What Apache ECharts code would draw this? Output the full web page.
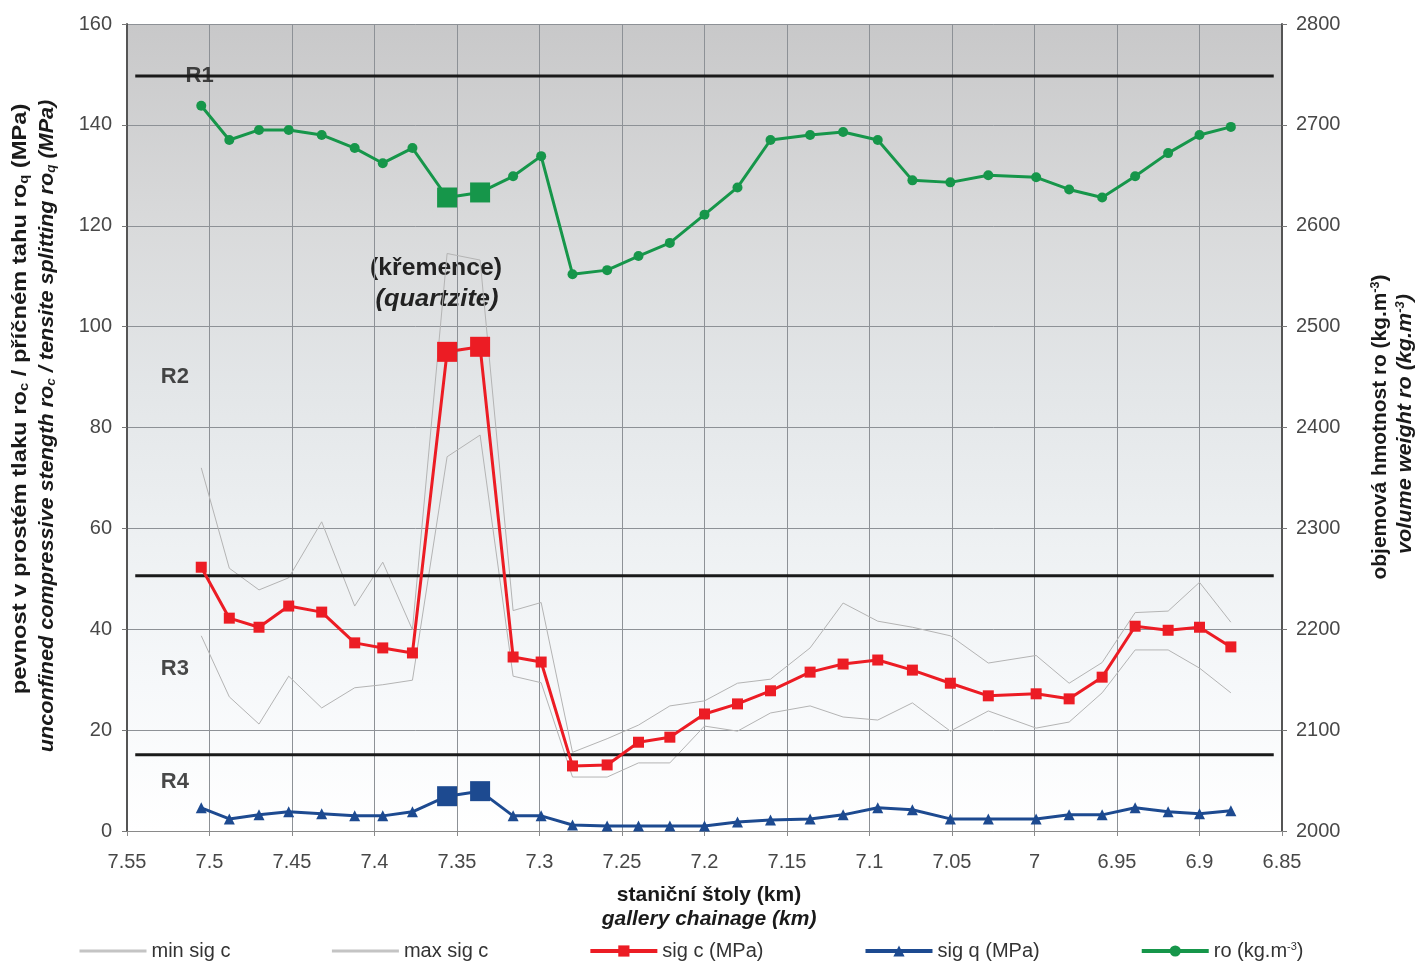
<!DOCTYPE html>
<html><head><meta charset="utf-8">
<script src="https://cdn.jsdelivr.net/npm/echarts@6/dist/echarts.min.js"></script>
<style>html,body{margin:0;padding:0;background:#fff}#c{width:1416px;height:961px}</style>
</head><body><div id="c"></div>
<script>
// ---- data ----
const chainage = [7.505,7.488,7.470,7.452,7.432,7.412,7.395,7.377,7.356,7.336,7.316,7.299,7.280,7.259,7.240,7.221,7.200,7.180,7.160,7.136,7.116,7.095,7.074,7.051,7.028,6.999,6.979,6.959,6.939,6.919,6.900,6.881];
const minSigC = [38.7,26.6,21.2,30.7,24.4,28.4,29.0,29.9,74.2,78.5,30.7,29.4,10.7,10.7,13.5,13.5,20.8,19.8,23.4,24.8,22.6,22.0,25.4,19.8,23.8,20.4,21.6,27.4,35.9,35.9,32.3,27.4];
const maxSigC = [72.0,52.1,47.8,50.2,61.3,44.6,53.3,39.9,114.5,113.2,43.7,45.3,15.6,18.3,21.0,24.8,25.8,29.3,30.1,36.3,45.2,41.6,40.4,38.7,33.3,34.8,29.3,33.4,43.3,43.6,49.3,41.4];
const sigC = [52.3,42.2,40.4,44.6,43.4,37.3,36.3,35.3,95.0,96.0,34.5,33.5,12.9,13.1,17.6,18.6,23.2,25.2,27.8,31.5,33.1,33.9,31.9,29.3,26.8,27.2,26.2,30.5,40.6,39.8,40.4,36.5];
const sigQ = [4.6,2.4,3.2,3.8,3.4,3.0,3.0,3.8,6.9,7.9,3.0,3.0,1.2,1.0,1.0,1.0,1.0,1.8,2.2,2.4,3.2,4.6,4.2,2.4,2.4,2.4,3.2,3.2,4.6,3.8,3.4,4.0];
const ro = [2719,2685,2695,2695,2690,2677,2662,2677,2628,2633,2649,2669,2552,2556,2570,2583,2611,2638,2685,2690,2693,2685,2645,2643,2650,2648,2636,2628,2649,2672,2690,2698];
const quartziteIdx = [8,9];
const zoneLimits = [149.7, 50.6, 15.1];
const zoneLineRange = [7.545, 6.855];
const zoneNames = ['R1','R2','R3','R4'];
const zoneLabelPos = [[7.506,149.7],[7.521,90],[7.521,32.1],[7.521,9.7]];
const xTicks = {min:6.85, max:7.55, step:0.05};
const yLeft = {min:0, max:160, step:20};
const yRight = {min:2000, max:2800, step:100};
const legendNames = ['min sig c','max sig c','sig c (MPa)','sig q (MPa)','ro (kg.m-3)'];

// ---- chart ----
const chart = echarts.init(document.getElementById('c'), null, {renderer:'canvas'});
const FONT = '"Liberation Sans", Arial, sans-serif';
function pts(vals, bigSym){
  return chainage.map((x,i)=> quartziteIdx.includes(i)
    ? Object.assign({value:[x, vals[i]], symbolSize:20}, bigSym ? {symbol:bigSym} : {})
    : {value:[x, vals[i]]});
}
const series = [
  {name:legendNames[0], type:'line', data:chainage.map((x,i)=>[x,minSigC[i]]), symbol:'none', lineStyle:{color:'#b4b4b4', width:1}, itemStyle:{color:'#b4b4b4'}, z:2},
  {name:legendNames[1], type:'line', data:chainage.map((x,i)=>[x,maxSigC[i]]), symbol:'none', lineStyle:{color:'#b4b4b4', width:1}, itemStyle:{color:'#b4b4b4'}, z:2},
  {name:legendNames[2], type:'line', data:pts(sigC), symbol:'rect', symbolSize:11, lineStyle:{color:'#ec1c24', width:3}, itemStyle:{color:'#ec1c24'}, z:5},
  {name:legendNames[3], type:'line', data:pts(sigQ,'rect'), symbol:'triangle', symbolSize:11, lineStyle:{color:'#1d4a90', width:3}, itemStyle:{color:'#1d4a90'}, z:5},
  {name:legendNames[4], type:'line', yAxisIndex:1, data:pts(ro,'rect'), symbol:'circle', symbolSize:10, lineStyle:{color:'#16964a', width:3}, itemStyle:{color:'#16964a'}, z:5},
];
zoneLimits.forEach((v,k)=>{
  series.push({name:'zone'+k, type:'line', silent:true, symbol:'none', data:[[zoneLineRange[0],v],[zoneLineRange[1],v]], lineStyle:{color:'#1a1a1a', width:3}, z:4});
});
series.push({name:'zones', type:'scatter', silent:true, symbolSize:0, z:6,
  data:zoneNames.map((n,i)=>({name:n, value:zoneLabelPos[i]})),
  label:{show:true, position:'inside', formatter:p=>p.name, fontFamily:FONT, fontWeight:'bold', fontSize:22, color:'#1a1a1a'}});

function vtext(x, y, text, font, subFont, scale, sup){
  return {type:'text', x:x, y:y, rotation:Math.PI/2, scaleX:scale, style:{text:text, font:font, fill:'#1a1a1a', align:'center', verticalAlign:'middle',
    rich:{s:{font:subFont, fill:'#1a1a1a', padding: sup ? [0,0,9,0] : [9,0,0,0]}}}};
}

chart.setOption({
  animation:false,
  grid:{left:127, right:134, top:24, bottom:130, show:true, borderWidth:0,
    backgroundColor:{type:'linear', x:0, y:0, x2:0, y2:1, colorStops:[
      {offset:0, color:'#c8c8c9'},{offset:0.25, color:'#d9dadb'},{offset:0.45, color:'#e3e6e8'},
      {offset:0.65, color:'#eef1f3'},{offset:0.82, color:'#f6f8fa'},{offset:1, color:'#ffffff'}]}},
  xAxis:{type:'value', min:xTicks.min, max:xTicks.max, interval:xTicks.step, inverse:true,
    axisLine:{lineStyle:{color:'#8a8a8a', width:1}}, axisTick:{show:true, length:5, lineStyle:{color:'#8a8a8a'}},
    axisLabel:{fontFamily:FONT, fontSize:20, color:'#484848', margin:21, formatter:v=>String(parseFloat(v.toFixed(2)))},
    splitLine:{show:true, lineStyle:{color:'#8d9196', width:1}}},
  yAxis:[
    {type:'value', min:yLeft.min, max:yLeft.max, interval:yLeft.step,
      axisLine:{show:true, lineStyle:{color:'#555', width:2}}, axisTick:{show:true, length:5, lineStyle:{color:'#777'}},
      axisLabel:{fontFamily:FONT, fontSize:20, color:'#484848', margin:15},
      splitLine:{show:true, lineStyle:{color:'#8d9196', width:1}}},
    {type:'value', min:yRight.min, max:yRight.max, interval:yRight.step, position:'right',
      axisLine:{show:true, lineStyle:{color:'#555', width:2}}, axisTick:{show:true, length:5, lineStyle:{color:'#777'}},
      axisLabel:{fontFamily:FONT, fontSize:20, color:'#484848', margin:14, formatter:v=>String(v)},
      splitLine:{show:false}}
  ],
  legend:{bottom:-5, left:73, itemWidth:67, itemHeight:14, itemGap:100,
    data:legendNames.map((n,i)=> i<2 ? {name:n, itemStyle:{opacity:0}, lineStyle:{width:3, color:'#c4c4c4'}} : {name:n, lineStyle:{width:4}}),
    formatter:n=> n==='ro (kg.m-3)' ? 'ro (kg.m{s|-3})' : n,
    textStyle:{fontFamily:FONT, fontSize:20, color:'#333', rich:{s:{fontSize:11, verticalAlign:'top', padding:[0,0,9,0], fontFamily:FONT, color:'#333'}}}},
  series:series,
  graphic:[
    {type:'text', x:436, y:268, scaleX:1.03, style:{text:'(křemence)', font:'bold 24px '+FONT, fill:'#222', align:'center', verticalAlign:'middle'}},
    {type:'text', x:437, y:299, scaleX:1.06, style:{text:'(quartzite)', font:'italic bold 24px '+FONT, fill:'#222', align:'center', verticalAlign:'middle'}},
    {type:'text', x:709, y:895, style:{text:'staniční štoly (km)', font:'bold 21px '+FONT, fill:'#1a1a1a', align:'center', verticalAlign:'middle'}},
    {type:'text', x:709, y:919, style:{text:'gallery chainage (km)', font:'italic bold 21px '+FONT, fill:'#1a1a1a', align:'center', verticalAlign:'middle'}},
    vtext(20, 399, 'pevnost v prostém tlaku ro{s|c} / příčném tahu ro{s|q} (MPa)', 'bold 21px '+FONT, 'bold 13px '+FONT, 1.13, false),
    vtext(47, 426, 'unconfined compressive stength ro{s|c} / tensite splitting ro{s|q} (MPa)', 'italic bold 21px '+FONT, 'italic bold 13px '+FONT, 1.03, false),
    vtext(1380, 427, 'objemová hmotnost ro (kg.m{s|-3})', 'bold 20px '+FONT, 'bold 12px '+FONT, 1.045, true),
    vtext(1405, 424, 'volume weight ro (kg.m{s|-3})', 'italic bold 20px '+FONT, 'italic bold 12px '+FONT, 1.08, true)
  ]
});
</script></body></html>
